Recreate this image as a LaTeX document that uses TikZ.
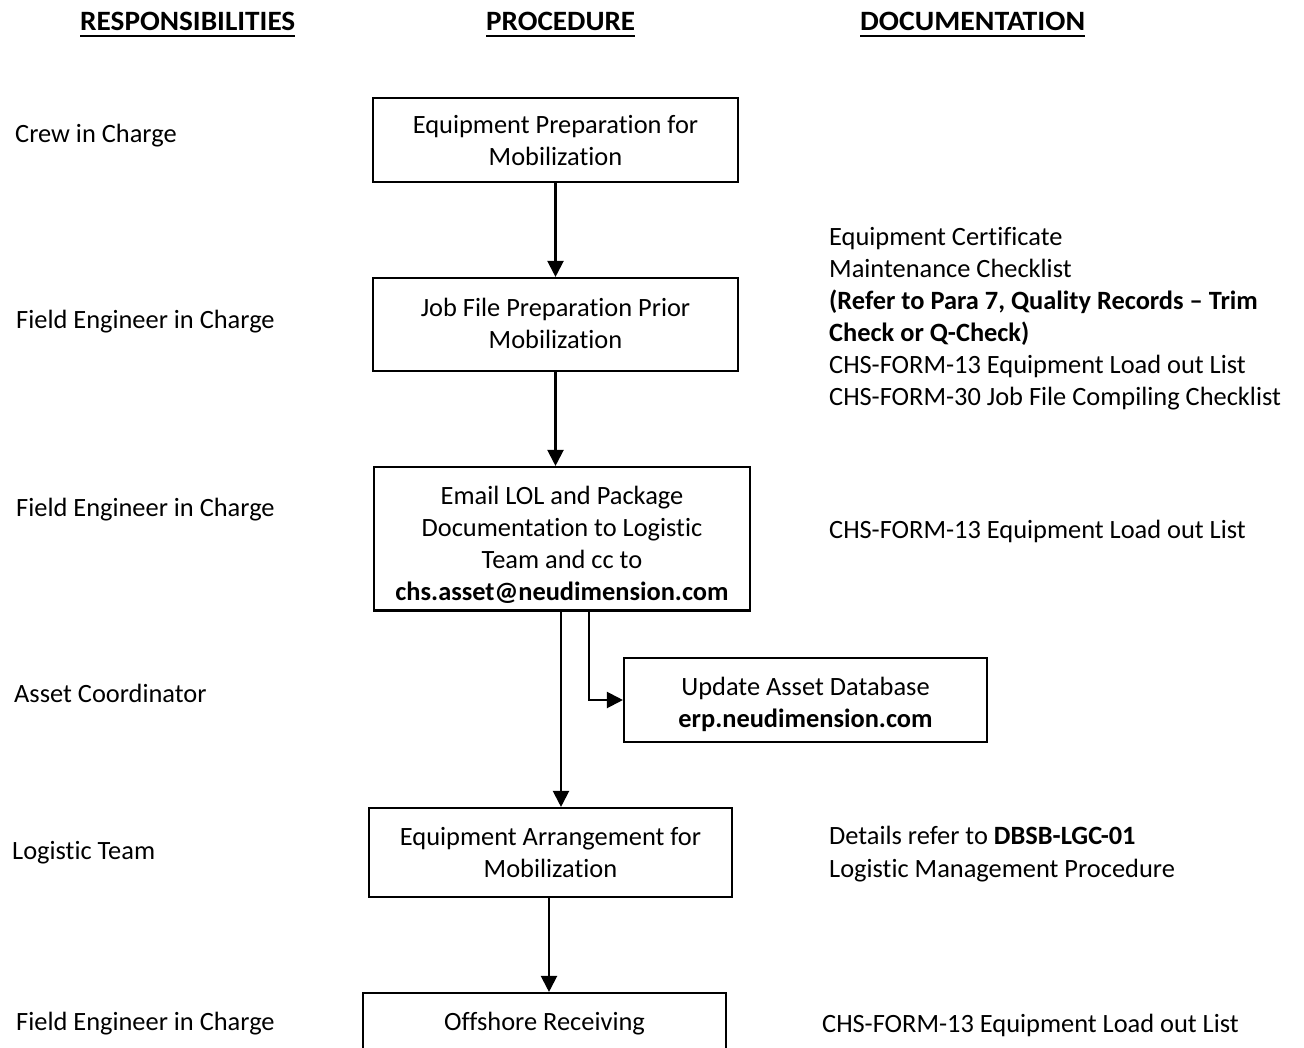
\documentclass[tikz,border=0pt]{standalone}
\usepackage{fontspec}
\setmainfont{Carlito}[Ligatures={NoCommon}]
\usepackage{graphicx}
\usetikzlibrary{arrows.meta}
\newcommand{\bxtext}[2]{\raisebox{-#1pt}[\height][\depth]{\begin{tabular}{@{}c@{}}#2\end{tabular}}}
\begin{document}
\begin{tikzpicture}[x=1pt,y=-1pt,
  txt/.style={anchor=base west,inner sep=0pt,font=\fontsize{26.4}{32}\selectfont},
  hdr/.style={anchor=base west,inner sep=0pt,font=\fontsize{28}{32}\selectfont\bfseries},
  box/.style={draw,line width=2.1pt,inner sep=0pt,align=center,font=\fontsize{26.4}{32}\selectfont},
  arr/.style={line width=2.1pt,-{Triangle[length=16pt,width=16pt]}},
  conn/.style={line width=2.1pt},
  uline/.style={line width=2.6pt}]
\useasboundingbox (0,0) rectangle (1304,1048);
\clip (0,0) rectangle (1304,1048);

% headers
\node[hdr] (h1) at (80,31) {\resizebox{215pt}{\height}{RESPONSIBILITIES}};
\node[hdr] (h2) at (486,31) {\resizebox{149pt}{\height}{PROCEDURE}};
\node[hdr] (h3) at (860,31) {\resizebox{225pt}{\height}{DOCUMENTATION}};
\draw[uline] (80,36) -- (295,36);
\draw[uline] (486,36) -- (635,36);
\draw[uline] (860,36) -- (1085,36);

% responsibilities
\node[txt] (r1) at (15,143) {Crew in Charge};
\node[txt] (r2) at (16,329) {Field Engineer in Charge};
\node[txt] (r3) at (16,516) {Field Engineer in Charge};
\node[txt] (r4) at (14,702) {Asset Coordinator};
\node[txt] (r5) at (12,859) {Logistic Team};
\node[txt] (r6) at (16,1030) {Field Engineer in Charge};

% procedure boxes
\node[box,minimum width=365pt,minimum height=84pt] (b1) at (555.5,140) {\bxtext{3}{Equipment Preparation for\\Mobilization}};
\node[box,minimum width=365pt,minimum height=93pt] (b2) at (555.5,324.5) {\bxtext{2}{Job File Preparation Prior\\Mobilization}};
\node[box,minimum width=376pt,minimum height=143.5pt] (b3) at (562,538.75) {\bxtext{7}{Email LOL and Package\\Documentation to Logistic\\Team and cc to\\\textbf{chs.asset@neudimension.com}}};
\node[box,minimum width=363pt,minimum height=84pt] (up) at (805.5,700) {\bxtext{5}{Update Asset Database\\\textbf{erp.neudimension.com}}};
\node[box,minimum width=363pt,minimum height=89pt] (b5) at (550.5,852.5) {\bxtext{3}{Equipment Arrangement for\\Mobilization}};
\node[box,minimum width=363pt,minimum height=58pt] (b6) at (544.5,1022) {\bxtext{2}{Offshore Receiving}};

% connectors
\draw[arr] (b1.south) -- (b1.south |- b2.north);
\draw[arr] (b2.south) -- (b2.south |- b3.north);
\coordinate (c0) at (555,610);
\coordinate (c1) at (561,610);
\coordinate (c2) at (589,610);
\draw[conn] (c0) -- (590,610);
\draw[arr] (c1) -- (c1 |- b5.north);
\draw[arr] (c2) |- (up.west);
\coordinate (c3) at (549,0);
\draw[arr] (c3 |- b5.south) -- (c3 |- b6.north);

% documentation
\node[txt] (d1) at (829,246) {Equipment Certificate};
\node[txt] (d2) at (829,278) {Maintenance Checklist};
\node[txt] (d3) at (829,310) {\textbf{(Refer to Para 7, Quality Records – Trim}};
\node[txt] (d4) at (829,342) {\textbf{Check or Q-Check)}};
\node[txt] (d5) at (829,374) {CHS-FORM-13 Equipment Load out List};
\node[txt] (d6) at (829,406) {CHS-FORM-30 Job File Compiling Checklist};
\node[txt] (d7) at (829,538) {CHS-FORM-13 Equipment Load out List};
\node[txt] (d8) at (829,844) {Details refer to \textbf{DBSB-LGC-01}};
\node[txt] (d9) at (829,877) {Logistic Management Procedure};
\node[txt] (d10) at (822,1032) {CHS-FORM-13 Equipment Load out List};
\end{tikzpicture}
\end{document}
